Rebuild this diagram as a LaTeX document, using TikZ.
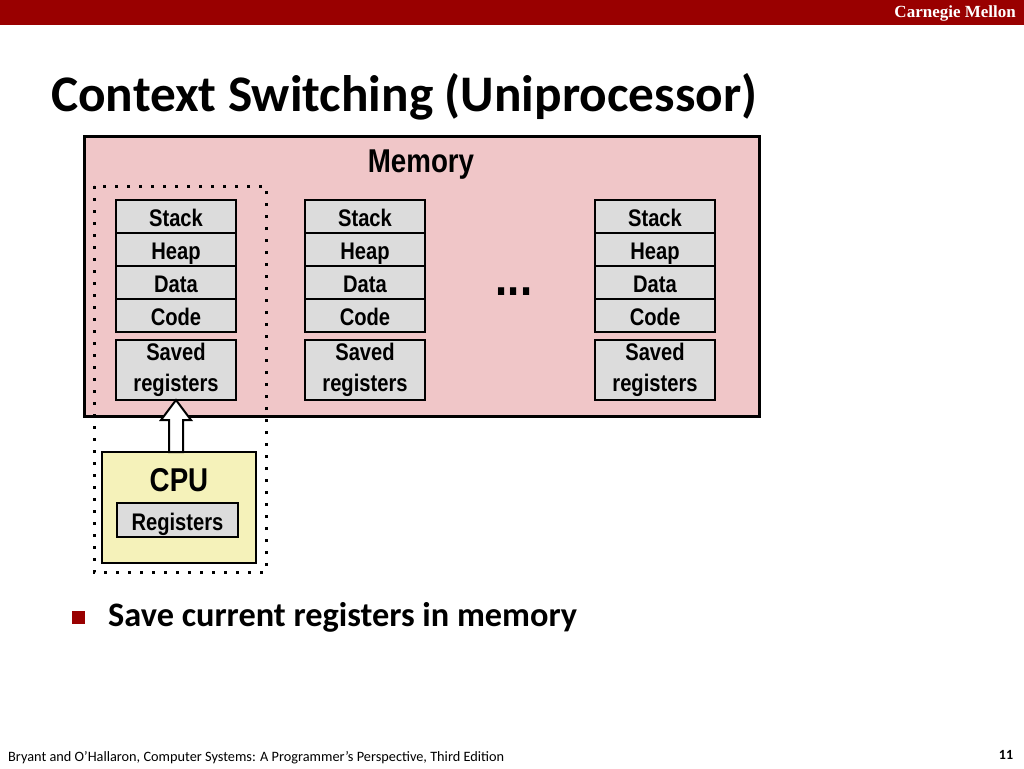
\documentclass[tikz,border=0pt]{standalone}
\usepackage{fontspec}
\setmainfont{Carlito}
\newfontfamily\boxfont{Liberation Sans}[FakeStretch=0.84]
\newfontfamily\cmufont{Liberation Serif}
\usepackage{tikz}
\usetikzlibrary{positioning, calc}
\definecolor{cmured}{RGB}{153,0,0}
\definecolor{mempink}{RGB}{240,198,200}
\definecolor{segfill}{RGB}{220,220,220}
\definecolor{cpufill}{RGB}{245,242,186}
\tikzset{
    x=1pt, y=-1pt, % one unit is one pixel, y runs downwards
    membox/.style={draw, line width=3pt, fill=mempink, minimum width=675pt, minimum height=280pt, outer sep=0pt},
    segbase/.style={draw, line width=2pt, fill=segfill, minimum width=120pt, outer sep=0pt,
                inner sep=0pt, align=center, font=\boxfont\bfseries\fontsize{24}{31}\selectfont},
    seg/.style={segbase, minimum height=33pt, text height=20pt, text depth=0pt},
    savedseg/.style={segbase, minimum height=60pt}, % the two line box under the stack
    cpubox/.style={draw, line width=2pt, fill=cpufill, minimum width=154pt, minimum height=111pt, outer sep=0pt},
    dotbox/.style={line width=3pt, dash pattern=on 3pt off 9pt},
    hollowarrow/.style={draw, line width=2pt, fill=white, line join=miter},
    bigsans/.style={font=\boxfont\bfseries\fontsize{33}{36}\selectfont},
}
\begin{document}
\begin{tikzpicture}
\useasboundingbox (0,0) rectangle (1024,768);
% header bar
\fill[cmured] (0,0) rectangle (1024,25);
\node[text=white, font=\cmufont\bfseries\fontsize{17}{20}\selectfont, anchor=east, inner sep=0pt] (cmu) at (1016,13) {Carnegie Mellon};
\node[anchor=base west, font=\bfseries\fontsize{51.3}{58}\selectfont, inner sep=0pt] (title) at (51,111) {Context Switching (Uniprocessor)};

% memory
\node[membox] (mem) at (421.5,276) {};
\node[bigsans] (memlabel) at (421,165) {Memory};
\draw[dotbox] (94,186) rectangle (266,572);

% first process
\node[seg] (stack1) at (176,216.5) {Stack};
\node[seg, below=0pt of stack1] (heap1) {Heap};
\node[seg, below=0pt of heap1] (data1) {Data};
\node[seg, below=0pt of data1] (code1) {Code};
\node[savedseg, below=8pt of code1] (saved1) {Saved\\registers};
% second process
\node[seg] (stack2) at (365,216.5) {Stack};
\node[seg, below=0pt of stack2] (heap2) {Heap};
\node[seg, below=0pt of heap2] (data2) {Data};
\node[seg, below=0pt of data2] (code2) {Code};
\node[savedseg, below=8pt of code2] (saved2) {Saved\\registers};
% last process
\node[seg] (stack3) at (655,216.5) {Stack};
\node[seg, below=0pt of stack3] (heap3) {Heap};
\node[seg, below=0pt of heap3] (data3) {Data};
\node[seg, below=0pt of data3] (code3) {Code};
\node[savedseg, below=8pt of code3] (saved3) {Saved\\registers};
\node[font=\boxfont\bfseries\fontsize{52}{52}\selectfont] (dots) at (514,292) {...};

% cpu
\node[cpubox] (cpu) at (179,507.5) {};
\node[bigsans] (cpulabel) at (179,480) {CPU};
\node[seg, minimum width=121pt, minimum height=34pt] (regs) at (177.5,520) {Registers};
\draw[hollowarrow] (saved1.south) -- ++(15,20) -- ++(-8,0)
    -- ($(saved1.south |- cpu.north)+(7,0)$) -- ($(saved1.south |- cpu.north)+(-7,0)$)
    -- ($(saved1.south)+(-7,20)$) -- ++(-8,0) -- cycle;

% bullet
\fill[cmured] (72,611) rectangle (85,624);
\node[anchor=base west, inner sep=0pt, font=\bfseries\fontsize{34.3}{40}\selectfont] (point) at (108,626) {Save current registers in memory};

% footer
\node[anchor=base west, inner sep=0pt, font=\fontsize{14.3}{17}\selectfont] (cite) at (8,761) {Bryant and O’Hallaron, Computer Systems: A Programmer’s Perspective, Third Edition};
\node[font=\bfseries\fontsize{14}{16}\selectfont] (page) at (1006,755) {11};
\end{tikzpicture}
\end{document}
